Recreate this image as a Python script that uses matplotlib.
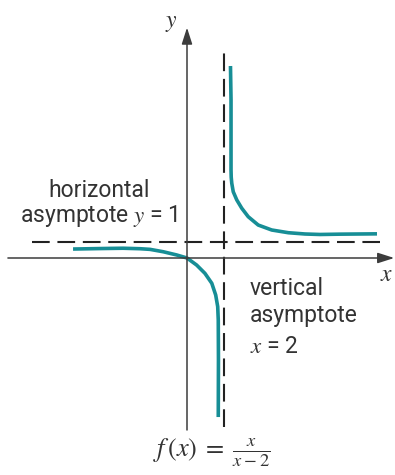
import matplotlib
matplotlib.use('Agg')
import matplotlib.pyplot as plt

plt.rcParams['mathtext.fontset'] = 'stix'
plt.rcParams['font.family'] = ['Roboto', 'DejaVu Sans']

# f(x) = x/(x-2), branch (x unit ~18.5px, y unit ~16px)
right_x = [2.35, 2.38, 2.38, 2.38, 2.39, 2.42, 2.50, 2.69, 2.96, 3.31, 3.85, 4.58, 5.48, 6.38, 7.19, 8.27, 10.27]
right_y = [12.0, 9.88, 7.38, 5.50, 5.05, 4.67, 4.14, 3.63, 3.11, 2.58, 2.06, 1.75, 1.58, 1.50, 1.47, 1.49, 1.51]

left_x = [-6.16, -4.70, -3.46, -2.54, -2.00, -1.28, -0.56, 0.0, 0.52, 0.97, 1.34, 1.55, 1.66, 1.69, 1.70, 1.69]
left_y = [0.56, 0.59, 0.61, 0.58, 0.54, 0.39, 0.19, 0.0, -0.44, -0.96, -1.58, -2.31, -3.04, -3.88, -6.38, -9.94]

# asymptotes
vert_asym = 2
horiz_asym = 1

teal = '#178e96'
axis_col = '#3c3c3c'
txt_col = '#333333'

fig = plt.figure(figsize=(3.95, 4.75), dpi=100)
ax = fig.add_axes([0, 0, 1, 1])
ax.set_xlim(-187 / 18.5, 208 / 18.5)
ax.set_ylim(-217 / 16, 258 / 16)
ax.axis('off')

# axes with arrows
arr = dict(arrowstyle='-|>,head_length=0.5,head_width=0.16', color=axis_col,
           lw=1.1, mutation_scale=20, shrinkA=0, shrinkB=0)
ax.annotate('', xy=(11.2, 0), xytext=(-9.68, 0), arrowprops=arr)
ax.annotate('', xy=(0, 14.4), xytext=(0, -10.75), arrowprops=arr)

# dashed asymptotes
ax.plot([-8.38, 10.43], [horiz_asym, horiz_asym], color='#222222', lw=1.5,
        linestyle=(0, (8.5, 3.7)))
ax.plot([vert_asym, vert_asym], [-10.56, 12.9], color='#222222', lw=1.5,
        linestyle=(0, (8.5, 3.7)))

# curve
ax.plot(right_x, right_y, color=teal, lw=2.6, solid_capstyle='butt', solid_joinstyle='round')
ax.plot(left_x, left_y, color=teal, lw=2.6, solid_capstyle='butt', solid_joinstyle='round')

# labels
ax.text(-0.87, 14.75, '$y$', fontsize=17, color=txt_col, ha='center', va='center')
ax.text(10.81, -1.06, '$x$', fontsize=17, color=txt_col, ha='center', va='center')

kw = dict(fontsize=16.5, color=txt_col, va='baseline')
ax.text(-4.78, 3.81, 'horizontal', ha='center', **kw)
ax.text(-4.76, 2.25, 'asymptote $y$ = 1', ha='center', **kw)

ax.text(3.41, -2.31, 'vertical', ha='left', **kw)
ax.text(3.41, -4.0, 'asymptote', ha='left', **kw)
ax.text(3.41, -5.94, '$x$ = 2', ha='left', **kw)

ax.text(1.32, -12.15, r'$f\,(x)\;=\;\frac{x}{x-2}$', fontsize=19, color=txt_col,
        ha='center', va='center')

fig.savefig('out.png', dpi=100)
